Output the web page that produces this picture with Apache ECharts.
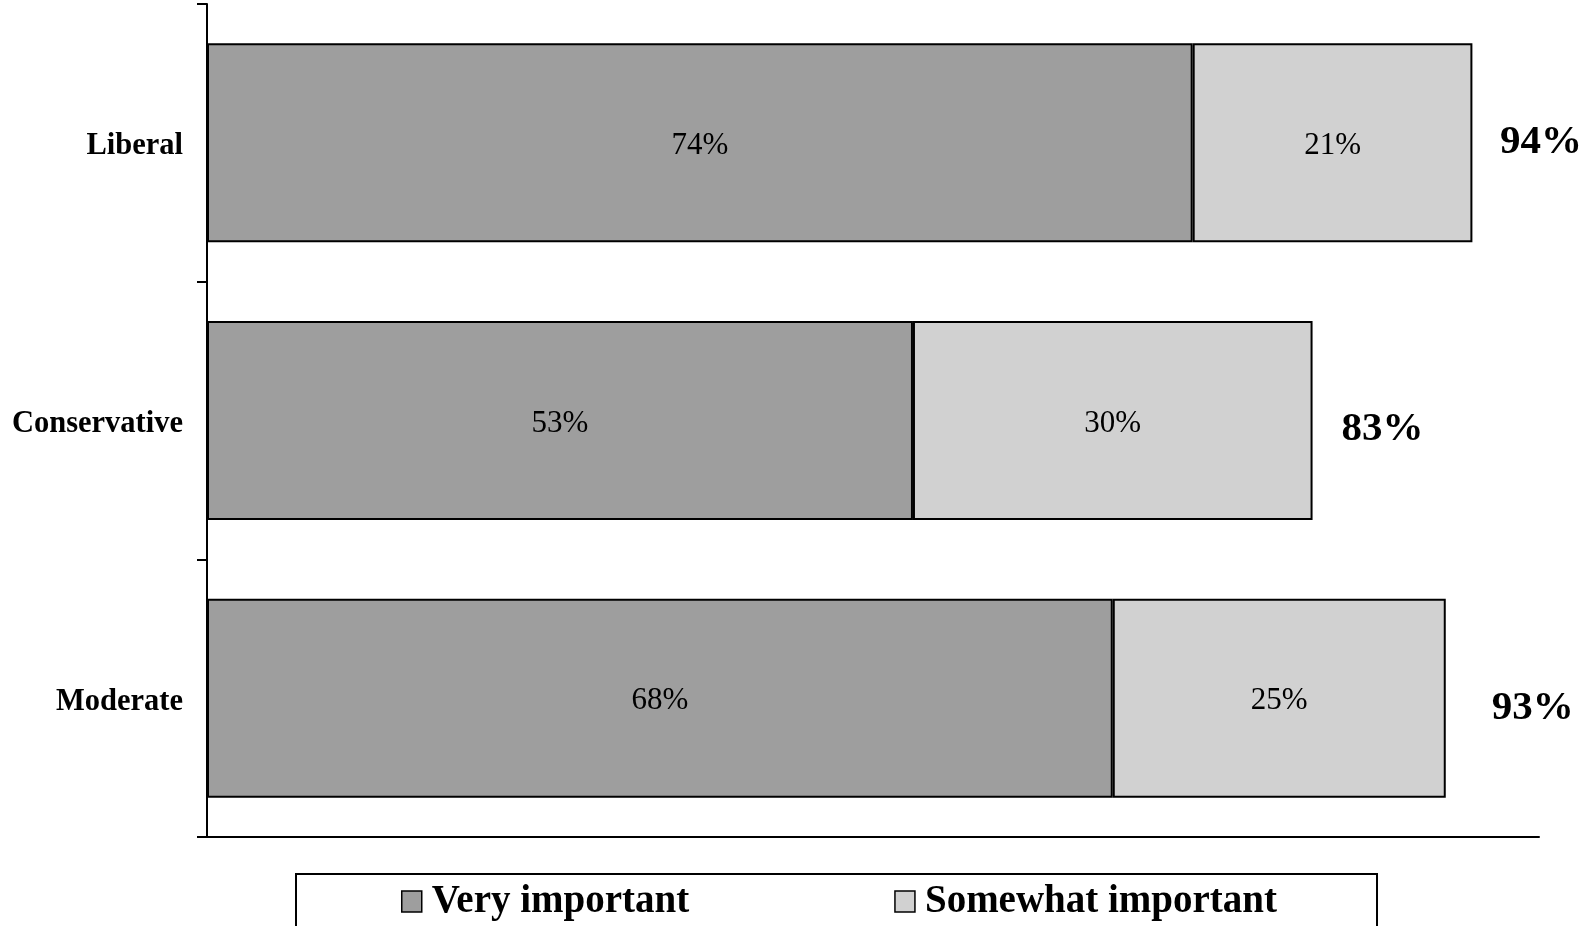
<!DOCTYPE html>
<html>
<head>
<meta charset="utf-8">
<title>Importance by ideology</title>
<script src="https://cdn.jsdelivr.net/npm/echarts@6/dist/echarts.min.js"></script>
<style>
  html, body { margin: 0; padding: 0; background: #fff; }
  #chart { width: 1596px; height: 926px; }
</style>
</head>
<body>
<div id="chart"></div>
<script>
// Row labels, top to bottom
const categories = ['Liberal', 'Conservative', 'Moderate'];
// Share answering each option (%)
const veryImportant = [74, 53, 68];
const somewhatImportant = [21, 30, 25];
// Combined share reported beside each bar (%)
const totals = [94, 83, 93];
const seriesNames = ['Very important', 'Somewhat important'];

// Nudges for the total labels, [dx, dy] in pixels
const totalLabelOffsets = [[41, 0], [29, 9], [46, 10]];

const SERIF = '"Liberation Serif", "Times New Roman", serif';

const chart = echarts.init(document.getElementById('chart'), null, { renderer: 'canvas' });

const segmentLabel = {
  show: true,
  position: 'inside',
  offset: [0, 3],
  formatter: p => p.value + '%',
  color: '#000',
  fontFamily: SERIF,
  fontSize: 31,
  fontWeight: 'normal'
};

chart.setOption({
  animation: false,
  backgroundColor: '#ffffff',
  grid: { left: 207, right: 57, top: 4, bottom: 89, containLabel: false },
  legend: {
    data: seriesNames,
    left: 296,
    top: 874,
    orient: 'horizontal',
    padding: [8, 100, 40, 105],
    itemGap: 205,
    itemWidth: 20,
    itemHeight: 21,
    icon: 'rect',
    borderColor: '#000',
    borderWidth: 2,
    borderRadius: 0,
    backgroundColor: '#fff',
    itemStyle: { borderColor: '#000', borderWidth: 1.5 },
    textStyle: {
      fontFamily: SERIF,
      fontSize: 39,
      fontWeight: 'bold',
      color: '#000',
      padding: [0, 0, 0, 5]
    }
  },
  xAxis: {
    type: 'value',
    min: 0,
    max: 100,
    axisLine: { show: true, lineStyle: { color: '#000', width: 2 } },
    axisTick: { show: false },
    axisLabel: { show: false },
    splitLine: { show: false }
  },
  yAxis: {
    type: 'category',
    data: categories,
    inverse: true,
    boundaryGap: true,
    axisLine: { show: true, lineStyle: { color: '#000', width: 2 } },
    axisTick: { show: true, length: 10, lineStyle: { color: '#000', width: 2 } },
    axisLabel: {
      margin: 24,
      formatter: v => '{cat|' + v + '}',
      rich: {
        cat: {
          padding: [7, 0, 0, 0],
          color: '#000',
          fontFamily: SERIF,
          fontSize: 30.5,
          fontWeight: 'bold'
        }
      }
    },
    splitLine: { show: false }
  },
  series: [
    {
      name: seriesNames[0],
      type: 'bar',
      stack: 'share',
      data: veryImportant,
      barWidth: 199,
      itemStyle: { color: '#9e9e9e', borderColor: '#000', borderWidth: 2 },
      label: segmentLabel
    },
    {
      name: seriesNames[1],
      type: 'bar',
      stack: 'share',
      data: somewhatImportant,
      barWidth: 199,
      itemStyle: { color: '#d1d1d1', borderColor: '#000', borderWidth: 2 },
      label: segmentLabel
    },
    {
      name: 'Total',
      type: 'scatter',
      symbolSize: 0,
      silent: true,
      itemStyle: { opacity: 1 },
      data: totals.map((v, i) => ({
        value: [v, categories[i]],
        label: { offset: totalLabelOffsets[i] }
      })),
      label: {
        show: true,
        position: 'right',
        distance: 0,
        opacity: 1,
        formatter: p => p.value[0] + '%',
        color: '#000',
        fontFamily: SERIF,
        fontSize: 41,
        fontWeight: 'bold'
      }
    }
  ]
});
</script>
</body>
</html>
